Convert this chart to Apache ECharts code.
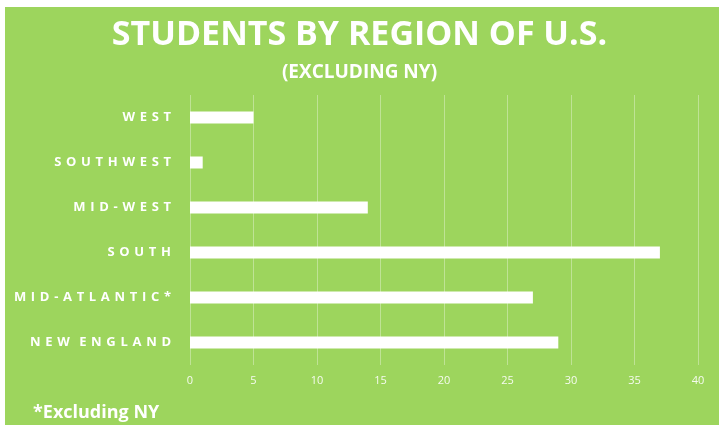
<!DOCTYPE html>
<html>
<head>
<meta charset="utf-8">
<script src="https://cdn.jsdelivr.net/npm/echarts@6/dist/echarts.min.js"></script>
<style>
  html, body { margin: 0; padding: 0; background: #fff; }
  #chart { width: 719px; height: 428px; }
</style>
</head>
<body>
<div id="chart"></div>
<script>
// categories, bottom to top as the y axis draws them
var regions = ['NEW ENGLAND', 'MID-ATLANTIC*', 'SOUTH', 'MID-WEST', 'SOUTHWEST', 'WEST'];
var students = [29, 27, 37, 14, 1, 5];
var xMax = 40;
var xStep = 5;

var titleStr = 'STUDENTS BY REGION OF U.S.';
var subStr = '(EXCLUDING NY)';
var noteStr = '*Excluding NY';

var green = '#9dd55d';
var myChart = echarts.init(document.getElementById('chart'));

// spread the letters out like the original labels
function spaced(s) {
  var gap = ' \u200A';
  return s.split(' ').map(function (w) {
    return w.split('').join(gap);
  }).join(gap + gap);
}

var option = {
  backgroundColor: '#fff',
  textStyle: { fontFamily: 'Open Sans' },
  graphic: [
    { type: 'rect', z: -10, shape: { x: 5, y: 7, width: 714, height: 418 }, style: { fill: green } },
    { type: 'text', left: 33, top: 404, style: { text: noteStr, fill: '#fff', font: 'bold 18px "Open Sans"' } }
  ],
  title: [{
    text: titleStr,
    left: 'center',
    top: 13,
    textStyle: { color: '#fff', fontSize: 34, fontWeight: 'bold', fontFamily: 'Open Sans' }
  }, {
    text: subStr,
    left: 'center',
    top: 58,
    textStyle: { color: '#fff', fontSize: 19, fontWeight: 'bold', fontFamily: 'Open Sans' }
  }],
  grid: { left: 190, right: 21, top: 95, bottom: 63, containLabel: false },
  xAxis: {
    type: 'value',
    min: 0,
    max: xMax,
    interval: xStep,
    axisLine: { show: false },
    axisTick: { show: false },
    axisLabel: { color: 'rgba(255,255,255,0.9)', fontSize: 11, margin: 10 },
    splitLine: { show: true, lineStyle: { color: 'rgba(255,255,255,0.35)', width: 1 } }
  },
  yAxis: {
    type: 'category',
    data: regions,
    axisLine: { show: false },
    axisTick: { show: false },
    axisLabel: {
      color: '#fff',
      fontSize: 13,
      fontWeight: 'bold',
      margin: 19,
      formatter: function (v) { return spaced(v); }
    }
  },
  series: [{
    type: 'bar',
    data: students,
    barWidth: 12,
    itemStyle: { color: '#fff' },
    silent: true
  }]
};
myChart.setOption(option);
</script>
</body>
</html>
